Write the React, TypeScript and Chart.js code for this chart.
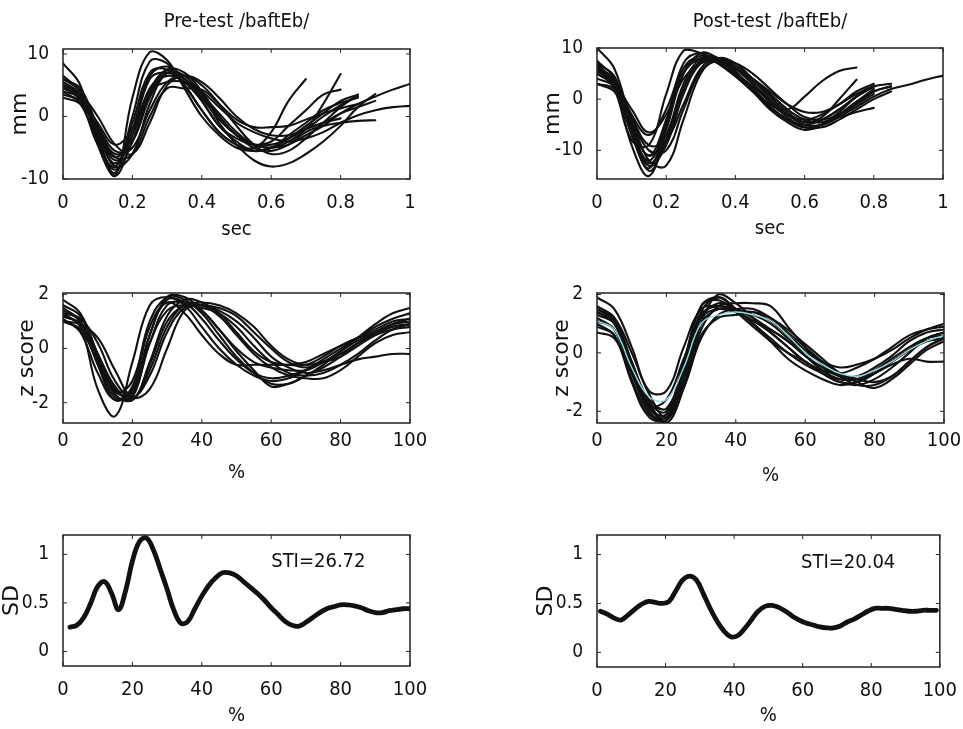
import React, { useEffect, useRef } from "react";
import { Chart, registerables } from "chart.js";
Chart.register(...registerables);

// ---------------- data ----------------
const TIME_SEC = [0, 0.05, 0.1, 0.15, 0.2, 0.25, 0.3, 0.35, 0.4, 0.45, 0.5, 0.55, 0.6, 0.65, 0.7, 0.75, 0.8, 0.85, 0.9, 0.95, 1];
const PCT = [0, 5, 10, 15, 20, 25, 30, 35, 40, 45, 50, 55, 60, 65, 70, 75, 80, 85, 90, 95, 100];
const SD_PCT_PRE = [2, 4, 6, 8, 10, 12, 14, 16, 18, 20, 22, 24, 26, 28, 30, 32, 34, 36, 38, 40, 42, 44, 46, 48, 50, 52, 54, 56, 58, 60, 62, 64, 66, 68, 70, 72, 74, 76, 78, 80, 82, 84, 86, 88, 90, 92, 94, 96, 98, 100];
const SD_PCT_POST = [1, 3, 5, 7, 9, 11, 13, 15, 17, 19, 21, 23, 25, 27, 29, 31, 33, 35, 37, 39, 41, 43, 45, 47, 49, 51, 53, 55, 57, 59, 61, 63, 65, 67, 69, 71, 73, 75, 77, 79, 81, 83, 85, 87, 89, 91, 93, 95, 97, 99];

const SEC_TICKS = [0, 0.2, 0.4, 0.6, 0.8, 1];
const PCT_TICKS = [0, 20, 40, 60, 80, 100];
const MM_TICKS = [-10, 0, 10];
const Z_TICKS = [-2, 0, 2];
const SD_TICKS = [0, 0.5, 1];

const PRE_MM = [
  [5, 2.5, -4.5, -8, -1, 7, 7.5, 5, 1, -2.5, -4.5, -5, -2.5, 2.5, 6],
  [4, 2, -4, -8.5, -4, 4, 7.5, 6, 3, -0.5, -3, -4.5, -5, -4, -2, 2, 6.8],
  [6.5, 4, -2.5, -7.5, -2, 6.5, 8, 6, 2.5, -1.5, -3.5, -4.5, -4, -1.5, 1, 3.5, 4.3],
  [3.5, 2.5, -1.5, -5.5, -5, 1, 5.5, 6.5, 5, 2, -1.5, -4.5, -6, -5.5, -3.5, -1, 1.5, 3.5],
  [5.5, 3.5, -3, -9.5, -3, 6, 7, 5.5, 2.5, -1.5, -4, -5.5, -5, -3.5, -2, 0, 1.8, 3.2],
  [4.5, 3, -2.5, -8, -6, 2, 7, 6.5, 3.5, -1, -4.5, -7, -8, -7.5, -6, -4, -1.5, 1.5, 3.6],
  [5, 3.5, -2, -6.5, -3, 4.5, 6.5, 5.5, 3, 0, -3, -5, -5.5, -4.5, -2.5, -1.5, -1, -0.7, -0.6],
  [6, 4.5, -1.5, -6, -4, 3, 7, 6, 3.5, 0.5, -2.5, -4.5, -5, -4.5, -3, -1.5, 0.5, 2, 3.2, 4.3, 5.2],
  [4, 3, -1, -4.5, -2, 4, 5.5, 5.5, 4, 1.5, -1, -2.5, -3.5, -4, -3.5, -2.5, -1, 0.2, 1, 1.5, 1.7],
  [8.5, 5, -4.5, -9.5, 3, 10.3, 9, 4.5, 0, -3, -5, -5.5, -5, -3.5, -1.5, 0.5, 2.5, 3.5],
  [3, 2, -2, -6.5, -6, 0, 4.5, 4.5, 4.3, 2, -0.5, -1.7, -1.7, -1.5, -0.5, 0.5, 1.3, 2],
  [5.5, 3.5, -3.5, -9, 0, 8.8, 8.5, 5, 1, -2.5, -4.5, -5.5, -5, -3, -1, 1, 2.2, 3],
  [4.5, 3.5, 0, -4.5, -6, -1, 5, 6.5, 5.5, 3, 0, -2, -3, -3, -2, -1, 0.5, 1.5, 2.5],
  [6, 4, -2, -7, -4, 3.5, 7.5, 7, 4, 0, -3, -4.5, -4.5, -3.5, -2, -1, -0.3],
];

const POST_MM = [
  [10, 6, -5, -14, -8, 2, 7.5, 7.5, 5, 2, -1, -3, -4, -3, -1, 1.5, 3],
  [7, 3, -9, -15, -6, 5, 9, 8, 5.5, 2, -1.5, -4, -5, -4, -2, 0.5, 2.5],
  [6, 2, -8, -9, 1, 9.5, 9, 7, 4.5, 1.5, -1, -2, 0.5, 3.5, 5.5, 6.2],
  [5, 3, -2, -6.5, -3, 4, 7, 7.5, 6, 4, 1.5, -1, -2.5, -2.5, -1, 1, 2.5, 3],
  [3, 2, -4, -12, -13, -4, 5, 8, 7, 4, 1, -2, -4, -4.5, -3.5, -2.5, -1.7],
  [7.5, 4, -6, -12, -5, 6, 8.5, 7.5, 5, 2, -1.5, -4, -5.5, -5, -3, -0.5, 1.5, 2.5],
  [5.5, 3, -5, -11, -7, 3, 8, 8, 6, 3, 0, -3, -5, -5, -3.5, -1.5, 0.5, 2, 2.8, 3.8, 4.6],
  [6.5, 3.5, -6, -13, -9, 1, 7, 7.5, 6, 3.5, 0.5, -2.5, -4.5, -3.5, 0, 3.8],
  [4, 2.5, -3.5, -9, -8, -1, 6, 8, 6.5, 4, 1, -2, -4, -4.5, -3, -0.5, 2],
  [6, 4, -3, -7, -2, 6, 8, 7, 5, 2.5, -0.5, -3, -4.5, -4, -2, 0.5, 2.5],
  [5, 2.5, -5.5, -12.5, -8, 2, 7.5, 8, 6, 3, -0.5, -3.5, -5.5, -5.5, -4, -2, 0, 1.5],
  [3, 1.5, -4, -10, -10, -2, 5.5, 7.5, 7, 5, 2, -1, -3.5, -4, -3, -1, 1],
  [7, 4.5, -4.5, -11, -4, 7, 9, 7, 4.5, 1.5, -2, -4.5, -6, -5, -2.5, 0.5, 2.5],
  [6, 3, -7, -13.5, -5, 5, 8, 7.5, 5, 2, -1.5, -4, -5.5, -5, -3, -1, 1.5, 2.5],
];

const PRE_Z = [
  [1.3, 0.8, -1.5, -2.5, -0.5, 1.6, 1.9, 1.6, 0.8, 0, -0.6, -1.0, -1.2, -1.1, -0.8, -0.4, 0, 0.4, 0.8, 1.1, 1.3],
  [1.8, 1.3, -0.2, -1.6, -1.2, 1.0, 1.9, 1.8, 1.3, 0.5, -0.3, -0.9, -1.3, -1.3, -1.0, -0.6, -0.1, 0.4, 0.9, 1.3, 1.5],
  [1.0, 0.9, 0.4, -0.8, -1.8, -1.5, 0, 1.4, 1.6, 1.4, 1.0, 0.4, -0.3, -0.7, -0.9, -0.8, -0.6, -0.4, -0.3, -0.2, -0.2],
  [1.5, 1.0, -0.5, -1.8, -1.7, 0.2, 1.6, 1.7, 1.4, 0.7, 0, -0.5, -0.7, -0.8, -0.8, -0.5, -0.1, 0.3, 0.6, 0.9, 1.0],
  [1.2, 0.9, -0.2, -1.4, -1.9, -0.5, 1.2, 1.8, 1.7, 1.3, 0.6, -0.1, -0.5, -0.6, -0.6, -0.3, 0.1, 0.4, 0.6, 0.8, 0.9],
  [1.6, 1.2, -0.2, -1.5, -1.8, 0.5, 1.8, 1.7, 1.1, 0.3, -0.4, -0.9, -1.1, -1.0, -0.8, -0.5, -0.2, 0.2, 0.5, 0.7, 0.8],
  [1.0, 0.7, -0.5, -1.7, -1.9, -0.8, 0.8, 1.6, 1.6, 1.2, 0.5, -0.2, -0.7, -1.0, -1.1, -1.1, -0.8, -0.3, 0.2, 0.5, 0.6],
  [1.3, 1.1, 0.2, -1.2, -1.8, -1.0, 0.6, 1.5, 1.6, 1.5, 1.2, 0.6, 0, -0.5, -0.7, -0.5, -0.2, 0.2, 0.6, 0.9, 1.0],
  [1.1, 0.6, -0.9, -1.9, -1.4, 0.8, 1.7, 1.3, 0.5, -0.2, -0.6, -0.6, -0.6, -0.6, -0.5, -0.2, 0.1, 0.4, 0.7, 1.0, 1.1],
  [1.4, 1.0, -0.3, -1.6, -1.6, 0.2, 1.4, 1.6, 1.5, 1.3, 0.8, 0.1, -0.5, -0.9, -1.0, -0.9, -0.6, -0.2, 0.3, 0.7, 0.9],
  [1.2, 0.9, -0.6, -1.9, -1.5, 0.5, 1.9, 1.9, 1.4, 0.7, -0.1, -0.8, -1.4, -1.3, -1.0, -0.7, -0.3, 0.2, 0.6, 0.9, 1.1],
  [1.0, 0.7, -0.4, -1.5, -1.9, -0.6, 1.0, 1.6, 1.7, 1.6, 1.3, 0.8, 0.1, -0.4, -0.6, -0.5, -0.3, 0.1, 0.5, 0.8, 0.9],
];

const POST_Z = [
  [1.9, 1.5, 0.2, -1.3, -1.3, 0.2, 1.5, 1.6, 1.5, 1.3, 1.0, 0.5, 0, -0.3, -0.5, -0.4, -0.2, 0.1, 0.5, 0.8, 1.0],
  [1.5, 1.1, -0.5, -1.8, -2.3, -1.0, 1.0, 2.0, 1.7, 1.2, 0.7, 0.2, -0.3, -0.7, -1.0, -1.0, -0.7, -0.3, 0.1, 0.4, 0.5],
  [1.2, 0.8, -0.7, -1.9, -2.2, -0.6, 1.2, 1.7, 1.5, 1.2, 0.8, 0.4, -0.1, -0.6, -0.9, -0.9, -0.7, -0.4, -0.2, -0.3, -0.3],
  [1.4, 1.0, -0.5, -1.9, -2.1, -0.5, 1.4, 1.9, 1.5, 1.0, 0.5, 0, -0.4, -0.7, -0.9, -0.9, -0.6, -0.2, 0.2, 0.5, 0.6],
  [0.7, 0.5, -0.7, -2.0, -2.3, -1.0, 0.6, 1.2, 1.3, 1.4, 1.2, 0.7, 0.2, -0.3, -0.7, -0.9, -1.0, -0.8, -0.3, 0.2, 0.5],
  [1.1, 0.8, -0.6, -1.8, -1.6, -0.2, 1.2, 1.5, 1.4, 1.4, 1.1, 0.6, 0.1, -0.4, -0.8, -0.9, -0.7, -0.3, 0.1, 0.5, 0.7],
  [1.6, 1.2, -0.3, -1.7, -2.4, -1.2, 0.8, 1.6, 1.7, 1.7, 1.6, 0.9, 0.2, -0.4, -0.8, -1.1, -1.1, -0.8, -0.3, 0.2, 0.5],
  [0.9, 0.6, -0.9, -2.1, -2.3, -0.8, 1.0, 1.5, 1.4, 1.1, 0.7, 0.2, -0.3, -0.6, -0.7, -0.5, -0.2, 0.2, 0.6, 0.8, 0.9],
  [1.3, 1.0, -0.4, -1.6, -1.9, -0.4, 1.6, 1.9, 1.5, 1.0, 0.4, -0.2, -0.6, -0.9, -1.1, -1.0, -0.7, -0.3, 0.1, 0.4, 0.5],
  [1.5, 1.2, 0, -1.4, -2.2, -1.2, 0.5, 1.3, 1.5, 1.5, 1.2, 0.8, 0.3, -0.2, -0.7, -1.0, -1.2, -0.9, -0.4, 0.1, 0.4],
  [1.0, 0.6, -1.0, -2.2, -2.3, -0.6, 1.3, 1.6, 1.4, 1.1, 0.8, 0.4, -0.1, -0.5, -0.8, -0.8, -0.5, -0.1, 0.4, 0.7, 0.8],
  [1.4, 1.1, -0.3, -1.7, -2.0, -0.3, 1.6, 1.8, 1.4, 0.9, 0.4, 0, -0.3, -0.7, -1.0, -1.1, -0.9, -0.5, 0, 0.5, 0.7],
];
const POST_Z_CYAN = [1.1, 0.8, -0.5, -1.5, -1.6, -0.5, 1.0, 1.3, 1.4, 1.3, 1.1, 0.6, 0.0, -0.4, -0.7, -0.8, -0.6, -0.3, 0.1, 0.4, 0.6];

const PRE_SD = [0.25, 0.27, 0.35, 0.50, 0.67, 0.72, 0.60, 0.43, 0.62, 0.93, 1.13, 1.17, 1.05, 0.85, 0.64, 0.42, 0.29, 0.31, 0.44, 0.57, 0.68, 0.76, 0.81, 0.81, 0.78, 0.72, 0.66, 0.60, 0.53, 0.45, 0.38, 0.31, 0.27, 0.26, 0.30, 0.35, 0.40, 0.44, 0.46, 0.48, 0.48, 0.47, 0.45, 0.42, 0.40, 0.40, 0.42, 0.43, 0.44, 0.44];
const POST_SD = [0.42, 0.39, 0.35, 0.33, 0.38, 0.44, 0.49, 0.52, 0.51, 0.50, 0.52, 0.63, 0.74, 0.78, 0.74, 0.60, 0.45, 0.32, 0.22, 0.16, 0.17, 0.24, 0.33, 0.42, 0.47, 0.48, 0.46, 0.42, 0.37, 0.33, 0.30, 0.28, 0.26, 0.25, 0.25, 0.27, 0.31, 0.34, 0.38, 0.42, 0.45, 0.45, 0.45, 0.44, 0.43, 0.42, 0.42, 0.43, 0.43, 0.43];

const PRE_TITLE = "Pre-test /baftEb/";
const POST_TITLE = "Post-test /baftEb/";
const PRE_STI = "STI=26.72";
const POST_STI = "STI=20.04";

// ---------------- styling ----------------
const NARROW = "'DejaVu Sans Condensed', 'Liberation Sans', sans-serif";
const WIDE = "'DejaVu Sans', 'Liberation Sans', sans-serif";
const INK = "#111";

type Series = { xs: number[]; ys: number[]; color: string; width: number };
type Panel = {
  key: string;
  left: number; top: number; w: number; h: number;
  padTop: number; padRight: number;
  yAxisW: number; xAxisH: number;
  title?: string; titleY?: number;
  xMin: number; xMax: number; xTicks: number[]; xTitle: string; xTitlePadBottom: number; xTickPad: number;
  yMin: number; yMax: number; yTicks: number[]; yTitle: string; yTitlePadTop: number;
  series: Series[];
  sti?: { text: string; x: number; y: number };
};

const spaghetti = (xs: number[], curves: number[][]): Series[] =>
  curves.map((ys) => ({ xs, ys, color: INK, width: 2.1 }));

const PANELS: Panel[] = [
  {
    key: "preMm", left: 0, top: 0, w: 470, h: 245, padTop: 49, padRight: 60, yAxisW: 63, xAxisH: 66,
    title: PRE_TITLE, titleY: 22,
    xMin: 0, xMax: 1, xTicks: SEC_TICKS, xTitle: "sec", xTitlePadBottom: 5, xTickPad: 6,
    yMin: -10, yMax: 10.8, yTicks: MM_TICKS, yTitle: "mm", yTitlePadTop: 9,
    series: spaghetti(TIME_SEC, PRE_MM),
  },
  {
    key: "postMm", left: 490, top: 0, w: 473, h: 245, padTop: 48, padRight: 20, yAxisW: 107, xAxisH: 66,
    title: POST_TITLE, titleY: 22,
    xMin: 0, xMax: 1, xTicks: SEC_TICKS, xTitle: "sec", xTitlePadBottom: 6, xTickPad: 6,
    yMin: -15.6, yMax: 10, yTicks: MM_TICKS, yTitle: "mm", yTitlePadTop: 52,
    series: spaghetti(TIME_SEC, POST_MM),
  },
  {
    key: "preZ", left: 0, top: 250, w: 470, h: 240, padTop: 43, padRight: 60, yAxisW: 63, xAxisH: 67,
    xMin: 0, xMax: 100, xTicks: PCT_TICKS, xTitle: "%", xTitlePadBottom: 7, xTickPad: 0,
    yMin: -2.75, yMax: 2.05, yTicks: Z_TICKS, yTitle: "z score", yTitlePadTop: 16,
    series: spaghetti(PCT, PRE_Z),
  },
  {
    key: "postZ", left: 490, top: 250, w: 473, h: 240, padTop: 43, padRight: 19, yAxisW: 107, xAxisH: 67,
    xMin: 0, xMax: 100, xTicks: PCT_TICKS, xTitle: "%", xTitlePadBottom: 4, xTickPad: 0,
    yMin: -2.4, yMax: 2.05, yTicks: Z_TICKS, yTitle: "z score", yTitlePadTop: 61,
    series: [{ xs: PCT, ys: POST_Z_CYAN, color: "#8fdcdc", width: 1.4 }, ...spaghetti(PCT, POST_Z)],
  },
  {
    key: "preSd", left: 0, top: 500, w: 470, h: 229, padTop: 35, padRight: 60, yAxisW: 63, xAxisH: 63,
    xMin: 0, xMax: 100, xTicks: PCT_TICKS, xTitle: "%", xTitlePadBottom: 3, xTickPad: 6,
    yMin: -0.15, yMax: 1.2, yTicks: SD_TICKS, yTitle: "SD", yTitlePadTop: 1,
    series: [{ xs: SD_PCT_PRE, ys: PRE_SD, color: INK, width: 4.8 }],
    sti: { text: PRE_STI, x: 60, y: 0.92 },
  },
  {
    key: "postSd", left: 490, top: 500, w: 473, h: 229, padTop: 35, padRight: 20, yAxisW: 107, xAxisH: 62,
    xMin: 0, xMax: 100, xTicks: PCT_TICKS, xTitle: "%", xTitlePadBottom: 3, xTickPad: 6,
    yMin: -0.15, yMax: 1.2, yTicks: SD_TICKS, yTitle: "SD", yTitlePadTop: 45,
    series: [{ xs: SD_PCT_POST, ys: POST_SD, color: INK, width: 4.8 }],
    sti: { text: POST_STI, x: 59.5, y: 0.92 },
  },
];

const boxPlugin = {
  id: "matlabBox",
  afterDatasetsDraw(chart: any) {
    const { ctx, chartArea } = chart;
    const { left, right, top, bottom } = chartArea;
    const xs = chart.scales.x;
    const ys = chart.scales.y;
    const opts = chart.options.plugins.matlabBox || {};
    ctx.save();
    ctx.strokeStyle = "#222";
    ctx.lineWidth = 1.5;
    ctx.strokeRect(left, top, right - left, bottom - top);
    ctx.lineWidth = 1;
    ctx.beginPath();
    const tl = 4;
    for (const t of xs.ticks) {
      const px = xs.getPixelForValue(t.value);
      ctx.moveTo(px, bottom); ctx.lineTo(px, bottom - tl);
      ctx.moveTo(px, top); ctx.lineTo(px, top + tl);
    }
    for (const t of ys.ticks) {
      const py = ys.getPixelForValue(t.value);
      ctx.moveTo(left, py); ctx.lineTo(left + tl, py);
      ctx.moveTo(right, py); ctx.lineTo(right - tl, py);
    }
    ctx.stroke();
    ctx.fillStyle = INK;
    if (opts.sti) {
      ctx.font = `20px ${NARROW}`;
      ctx.textAlign = "left";
      ctx.textBaseline = "middle";
      ctx.fillText(opts.sti.text, xs.getPixelForValue(opts.sti.x), ys.getPixelForValue(opts.sti.y));
    }
    if (opts.title) {
      ctx.font = `20px ${NARROW}`;
      ctx.textAlign = "center";
      ctx.textBaseline = "middle";
      ctx.fillText(opts.title, (left + right) / 2, opts.titleY);
    }
    ctx.restore();
  },
};

function makeConfig(p: Panel): any {
  return {
    type: "line",
    data: {
      datasets: p.series.map((s) => ({
        data: s.ys.map((y, i) => ({ x: s.xs[i], y })),
        borderColor: s.color,
        borderWidth: s.width,
        pointRadius: 0,
        tension: 0.4,
        fill: false,
        borderCapStyle: "round",
        borderJoinStyle: "round",
      })),
    },
    options: {
      animation: false,
      responsive: false,
      maintainAspectRatio: false,
      events: [],
      layout: { padding: { left: 0, right: p.padRight, top: p.padTop, bottom: 0 } },
      plugins: {
        legend: { display: false },
        tooltip: { enabled: false },
        title: { display: false },
        matlabBox: { sti: p.sti, title: p.title, titleY: p.titleY },
      },
      scales: {
        x: {
          type: "linear",
          min: p.xMin,
          max: p.xMax,
          grid: { display: false },
          border: { display: false },
          afterBuildTicks: (s: any) => { s.ticks = p.xTicks.map((v) => ({ value: v })); },
          afterFit: (s: any) => { s.height = p.xAxisH; },
          ticks: {
            color: INK,
            padding: p.xTickPad,
            maxRotation: 0,
            autoSkip: false,
            font: { family: NARROW, size: 20, lineHeight: 1 },
            callback: (v: any) => String(v),
          },
          title: {
            display: true,
            text: p.xTitle,
            color: INK,
            font: { family: NARROW, size: 20, lineHeight: 1 },
            padding: { top: 0, bottom: p.xTitlePadBottom },
          },
        },
        y: {
          type: "linear",
          min: p.yMin,
          max: p.yMax,
          grid: { display: false },
          border: { display: false },
          afterBuildTicks: (s: any) => { s.ticks = p.yTicks.map((v) => ({ value: v })); },
          afterFit: (s: any) => { s.width = p.yAxisW; },
          ticks: {
            color: INK,
            padding: 6,
            autoSkip: false,
            font: { family: NARROW, size: 19, lineHeight: 1 },
            callback: (v: any) => String(v),
          },
          title: {
            display: true,
            text: p.yTitle,
            color: INK,
            font: { family: WIDE, size: 22, lineHeight: 1 },
            padding: { top: p.yTitlePadTop, bottom: 0 },
          },
        },
      },
    },
    plugins: [boxPlugin],
  };
}

function PanelChart({ p }: { p: Panel }) {
  const ref = useRef<HTMLCanvasElement | null>(null);
  useEffect(() => {
    if (!ref.current) return;
    const chart = new Chart(ref.current, makeConfig(p));
    return () => chart.destroy();
  }, [p]);
  return (
    <canvas
      ref={ref}
      width={p.w}
      height={p.h}
      style={{ position: "absolute", left: p.left, top: p.top, width: p.w, height: p.h }}
    />
  );
}

export default function App() {
  return (
    <div style={{ position: "absolute", left: 0, top: 0, width: 963, height: 729, background: "#fff", overflow: "hidden" }}>
      {PANELS.map((p) => (
        <PanelChart key={p.key} p={p} />
      ))}
    </div>
  );
}
